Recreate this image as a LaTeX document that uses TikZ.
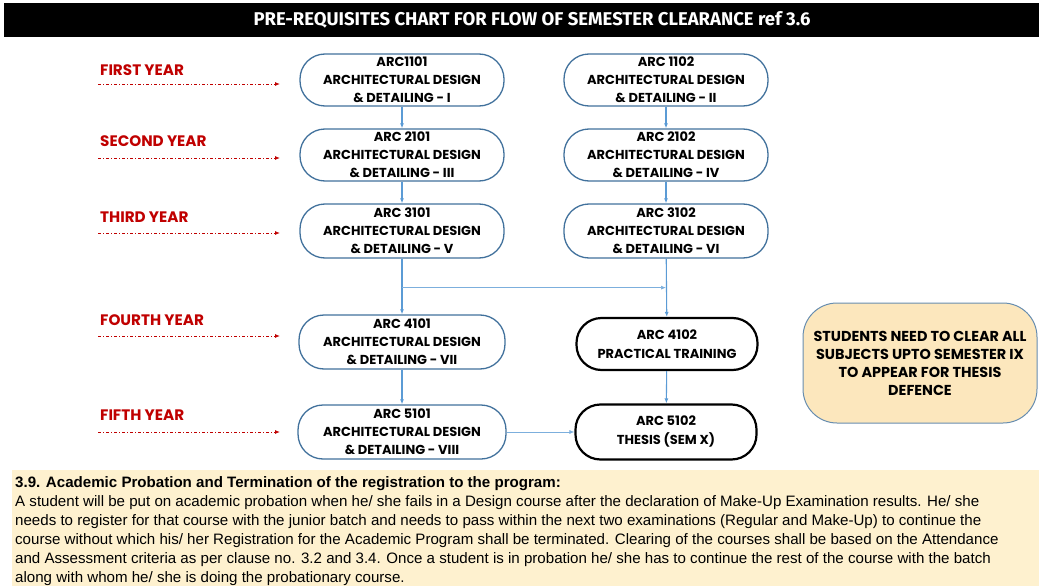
\documentclass[tikz,border=0pt]{standalone}
\usepackage{fontspec}
\setmainfont{Poppins}
\newfontfamily\titlefont{Fira Sans}
\newfontfamily\bodyfont{Liberation Sans}
\usetikzlibrary{arrows.meta,positioning,calc}
\definecolor{boxblue}{HTML}{41719C}
\definecolor{flowblue}{HTML}{5B9BD5}
\definecolor{yearred}{HTML}{C00000}
\definecolor{notefill}{HTML}{FCE7BD}
\definecolor{panelfill}{HTML}{FEF1CF}
\tikzset{
  course/.style={rounded corners=25pt, draw=boxblue, line width=1.3pt, fill=white, minimum width=204pt, minimum height=52pt, inner sep=0pt, align=center, font=\bfseries\fontsize{13}{18}\selectfont},
  special/.style={rounded corners=25pt, draw=black, line width=2.2pt, fill=white, minimum width=181pt, minimum height=52pt, inner sep=0pt, align=center, font=\bfseries\fontsize{13}{19}\selectfont},
  note/.style={rounded corners=34pt, draw=boxblue!80, line width=1pt, fill=notefill, minimum width=234pt, minimum height=120pt, inner sep=0pt, align=center, font=\bfseries\fontsize{14.4}{18}\selectfont},
  year/.style={anchor=west, text=yearred, inner sep=0pt, font=\bfseries\fontsize{15.2}{17}\selectfont},
  flow/.style={-{Latex[length=5pt,width=4pt]}, flowblue, line width=1.1pt},
  thinflow/.style={-{Latex[length=5pt,width=4pt]}, flowblue!80, line width=0.7pt},
  yeararrow/.style={-{Latex[length=5pt,width=4pt]}, yearred, line width=0.9pt, dash pattern=on 3pt off 2pt on 1pt off 2pt}
}
\begin{document}
\begin{tikzpicture}[x=1pt,y=-1pt]
  \useasboundingbox (0,0) rectangle (1039,586);
  % title bar
  \fill[black] (4,3) rectangle (1039,37);
  \node[text=white, font=\titlefont\bfseries\fontsize{18.5}{20}\selectfont] (title) at (532,20) {PRE-REQUISITES CHART FOR FLOW OF SEMESTER CLEARANCE ref 3.6};
  % year labels
  \foreach \lab/\ly/\ay [count=\i] in {FIRST YEAR/70/84, SECOND YEAR/141/158, THIRD YEAR/217/233, FOURTH YEAR/320/336, FIFTH YEAR/415/432}{
    \node[year] (yr\i) at (100,\ly) {\lab};
    \coordinate (ys\i) at (98,\ay);
    \coordinate (ye\i) at (280,\ay);
    \draw[yeararrow] (ys\i) -- (ye\i);
  }
  % courses
  \node[course] (b11) at (402,80) {ARC1101\\ARCHITECTURAL DESIGN\\\& DETAILING - I};
  \node[course] (b12) at (666,80) {ARC 1102\\ARCHITECTURAL DESIGN\\\& DETAILING - II};
  \node[course] (b21) at (402,155) {ARC 2101\\ARCHITECTURAL DESIGN\\\& DETAILING - III};
  \node[course] (b22) at (666,155) {ARC 2102\\ARCHITECTURAL DESIGN\\\& DETAILING - IV};
  \node[course, minimum height=54pt] (b31) at (402,231) {ARC 3101\\ARCHITECTURAL DESIGN\\\& DETAILING - V};
  \node[course, minimum height=54pt] (b32) at (666,231) {ARC 3102\\ARCHITECTURAL DESIGN\\\& DETAILING - VI};
  \node[course, minimum height=54pt, minimum width=206pt] (b41) at (402,342) {ARC 4101\\ARCHITECTURAL DESIGN\\\& DETAILING - VII};
  \node[special] (b42) at (667,344) {ARC 4102\\PRACTICAL TRAINING};
  \node[course, minimum height=54pt, minimum width=208pt] (b51) at (402,432) {ARC 5101\\ARCHITECTURAL DESIGN\\\& DETAILING - VIII};
  \node[special, minimum height=55pt] (b52) at (666,432) {ARC 5102\\THESIS (SEM X)};
  \node[note] (cond) at (920,363) {STUDENTS NEED TO CLEAR ALL\\SUBJECTS UPTO SEMESTER IX\\TO APPEAR FOR THESIS\\DEFENCE};
  % flow
  \draw[flow] (b11) -- (b21);
  \draw[flow] (b12) -- (b22);
  \draw[flow] (b21) -- (b31);
  \draw[flow] (b22) -- (b32);
  \draw[flow] (b31) -- (b41);
  \draw[flow] (b32) -- (b42);
  \coordinate (jl) at ($(b31.south)+(0,29)$);
  \coordinate (jr) at (b32.south |- jl);
  \draw[thinflow] (jl) -- (jr);
  \draw[flow] (b41) -- (b51);
  \draw[flow] (b42) -- (b52);
  \draw[thinflow] (b51) -- (b52);
  % clause 3.9
  \fill[panelfill] (12,470) rectangle (1039,586);
  \node[anchor=north west, align=left, inner sep=0pt, font=\bodyfont\fontsize{15.1}{19}\selectfont] (clause) at (15,476) {\textbf{3.9. Academic Probation and Termination of the registration to the program:}\\
A student will be put on academic probation when he/ she fails in a Design course after the declaration of Make-Up Examination results. He/ she\\
needs to register for that course with the junior batch and needs to pass within the next two examinations (Regular and Make-Up) to continue the\\
course without which his/ her Registration for the Academic Program shall be terminated. Clearing of the courses shall be based on the Attendance\\
and Assessment criteria as per clause no. 3.2 and 3.4. Once a student is in probation he/ she has to continue the rest of the course with the batch\\
along with whom he/ she is doing the probationary course.};
\end{tikzpicture}
\end{document}
